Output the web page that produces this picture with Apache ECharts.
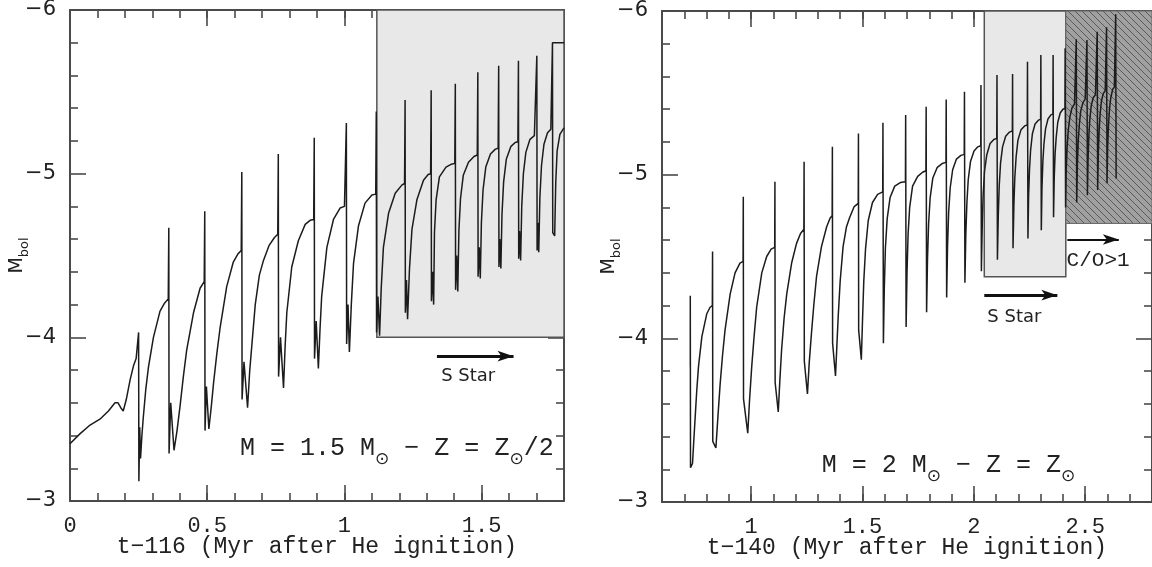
<!DOCTYPE html>
<html><head><meta charset="utf-8">
<script src="https://cdn.jsdelivr.net/npm/echarts@6/dist/echarts.min.js"></script>
<style>html,body{margin:0;padding:0;background:#fff}#c{width:1152px;height:567px}</style>
</head><body><div id="c"></div>
<script>
// ---------- data ----------
const leftTrack = [
[0,-3.35],[0.036,-3.41],[0.07,-3.46],[0.109,-3.50],[0.14,-3.55],[0.164,-3.60],[0.175,-3.60],[0.185,-3.57],[0.194,-3.55],[0.205,-3.62],[0.219,-3.74],[0.232,-3.83],[0.241,-3.87],[0.248,-3.88],
[0.25,-4.03],[0.251,-3.12],[0.254,-3.45],[0.257,-3.26],[0.262,-3.40],[0.267,-3.51],[0.276,-3.68],[0.286,-3.82],[0.304,-4.00],[0.328,-4.16],[0.345,-4.21],[0.358,-4.235],
[0.36,-4.67],[0.361,-3.29],[0.367,-3.60],[0.379,-3.31],[0.39,-3.43],[0.401,-3.58],[0.413,-3.76],[0.425,-3.92],[0.45,-4.15],[0.474,-4.30],[0.489,-4.34],
[0.491,-4.77],[0.492,-3.43],[0.497,-3.70],[0.506,-3.44],[0.515,-3.58],[0.523,-3.72],[0.535,-3.90],[0.547,-4.06],[0.571,-4.31],[0.595,-4.46],[0.612,-4.51],[0.624,-4.53],
[0.626,-5.01],[0.627,-3.62],[0.634,-3.85],[0.647,-3.57],[0.655,-3.80],[0.665,-4.00],[0.675,-4.20],[0.69,-4.38],[0.705,-4.47],[0.725,-4.56],[0.745,-4.61],[0.757,-4.63],
[0.759,-5.12],[0.760,-3.76],[0.767,-4.00],[0.778,-3.69],[0.784,-3.95],[0.790,-4.15],[0.808,-4.43],[0.832,-4.59],[0.857,-4.69],[0.875,-4.715],[0.888,-4.72],
[0.890,-5.22],[0.891,-3.87],[0.897,-4.10],[0.905,-3.81],[0.911,-4.05],[0.917,-4.25],[0.936,-4.55],[0.960,-4.72],[0.984,-4.79],[1.000,-4.80],[1.005,-4.805],
[1.007,-5.31],[1.008,-3.96],[1.013,-4.20],[1.018,-3.91],[1.025,-4.20],[1.033,-4.45],[1.051,-4.68],[1.075,-4.82],[1.100,-4.87],[1.114,-4.875],
[1.116,-5.38],[1.117,-4.03],[1.122,-4.25],[1.128,-4.01],[1.134,-4.30],[1.142,-4.55],[1.161,-4.76],[1.185,-4.88],[1.209,-4.93],[1.219,-4.94],
[1.221,-5.45],[1.222,-4.15],[1.226,-4.35],[1.230,-4.11],[1.237,-4.42],[1.246,-4.66],[1.264,-4.84],[1.288,-4.96],[1.305,-4.995],[1.314,-5.00],
[1.316,-5.51],[1.317,-4.22],[1.321,-4.40],[1.325,-4.20],[1.328,-4.64],[1.334,-4.84],[1.346,-4.98],[1.370,-5.04],[1.390,-5.058],[1.402,-5.063],
[1.404,-5.55],[1.405,-4.29],[1.409,-4.50],[1.413,-4.28],[1.417,-4.65],[1.423,-4.85],[1.433,-4.99],[1.452,-5.07],[1.472,-5.105],[1.484,-5.114],
[1.486,-5.62],[1.487,-4.37],[1.491,-4.55],[1.495,-4.36],[1.499,-4.70],[1.505,-4.90],[1.515,-5.04],[1.532,-5.12],[1.550,-5.15],[1.560,-5.155],
[1.562,-5.66],[1.563,-4.43],[1.566,-4.60],[1.570,-4.42],[1.574,-4.75],[1.580,-4.95],[1.590,-5.09],[1.606,-5.165],[1.622,-5.19],[1.632,-5.195],
[1.634,-5.69],[1.635,-4.48],[1.638,-4.65],[1.642,-4.47],[1.646,-4.80],[1.652,-5.00],[1.661,-5.13],[1.676,-5.21],[1.692,-5.232],[1.699,-5.236],
[1.701,-5.72],[1.702,-4.53],[1.705,-4.70],[1.708,-4.52],[1.712,-4.85],[1.718,-5.05],[1.727,-5.18],[1.740,-5.25],[1.752,-5.272],[1.757,-5.277],
[1.758,-5.80],[1.80,-5.80],[1.758,-5.80],[1.759,-4.64],[1.766,-4.62],[1.770,-4.95],[1.775,-5.14],[1.785,-5.24],[1.80,-5.28]
];

const rightTrack = [
[0.727,-3.83],[0.727,-4.26],[0.728,-3.21],[0.737,-3.235],[0.743,-3.38],[0.749,-3.52],[0.756,-3.68],[0.764,-3.83],[0.779,-4.01],[0.801,-4.15],[0.816,-4.19],[0.826,-4.20],
[0.827,-4.53],[0.828,-3.37],[0.842,-3.33],[0.851,-3.52],[0.861,-3.72],[0.872,-3.90],[0.883,-4.05],[0.906,-4.27],[0.928,-4.40],[0.950,-4.46],[0.964,-4.47],
[0.965,-4.865],[0.966,-3.63],[0.985,-3.42],[0.993,-3.62],[1.003,-3.83],[1.014,-4.02],[1.025,-4.19],[1.048,-4.40],[1.070,-4.50],[1.090,-4.545],[1.106,-4.556],
[1.107,-4.957],[1.108,-3.73],[1.122,-3.55],[1.129,-3.74],[1.137,-3.93],[1.148,-4.12],[1.160,-4.27],[1.182,-4.46],[1.204,-4.58],[1.222,-4.64],[1.237,-4.666],
[1.238,-5.079],[1.239,-3.86],[1.253,-3.66],[1.261,-3.85],[1.271,-4.03],[1.282,-4.21],[1.294,-4.38],[1.316,-4.56],[1.339,-4.68],[1.355,-4.735],[1.364,-4.749],
[1.365,-5.171],[1.366,-3.97],[1.379,-3.77],[1.385,-3.95],[1.391,-4.13],[1.400,-4.35],[1.413,-4.56],[1.428,-4.68],[1.443,-4.74],[1.463,-4.805],[1.481,-4.825],
[1.482,-5.252],[1.483,-4.05],[1.495,-3.87],[1.500,-4.10],[1.506,-4.35],[1.514,-4.55],[1.526,-4.72],[1.545,-4.83],[1.568,-4.88],[1.591,-4.895],
[1.592,-5.317],[1.594,-3.97],[1.598,-4.30],[1.603,-4.55],[1.611,-4.73],[1.624,-4.86],[1.645,-4.93],[1.670,-4.952],[1.693,-4.957],
[1.694,-5.364],[1.696,-4.07],[1.700,-4.40],[1.705,-4.64],[1.712,-4.80],[1.725,-4.93],[1.748,-4.99],[1.770,-5.015],[1.785,-5.024],
[1.786,-5.415],[1.788,-4.16],[1.792,-4.48],[1.797,-4.70],[1.804,-4.86],[1.816,-4.98],[1.836,-5.045],[1.858,-5.068],[1.875,-5.075],
[1.876,-5.46],[1.878,-4.25],[1.882,-4.56],[1.887,-4.77],[1.894,-4.92],[1.905,-5.03],[1.922,-5.095],[1.942,-5.118],[1.957,-5.124],
[1.958,-5.507],[1.960,-4.34],[1.964,-4.63],[1.969,-4.83],[1.975,-4.97],[1.985,-5.08],[2.001,-5.145],[2.018,-5.17],[2.031,-5.177],
[2.032,-5.548],[2.034,-4.41],[2.038,-4.70],[2.042,-4.88],[2.048,-5.02],[2.058,-5.12],[2.073,-5.19],[2.090,-5.215],[2.103,-5.222],
[2.104,-5.609],[2.106,-4.48],[2.110,-4.76],[2.114,-4.93],[2.120,-5.07],[2.129,-5.17],[2.143,-5.235],[2.160,-5.26],[2.173,-5.267],
[2.174,-5.615],[2.176,-4.55],[2.180,-4.82],[2.184,-4.98],[2.190,-5.11],[2.198,-5.21],[2.212,-5.275],[2.228,-5.298],[2.240,-5.303],
[2.241,-5.69],[2.243,-4.61],[2.246,-4.87],[2.250,-5.03],[2.255,-5.15],[2.263,-5.25],[2.275,-5.31],[2.290,-5.333],[2.300,-5.338],
[2.301,-5.731],[2.303,-4.66],[2.306,-4.92],[2.310,-5.08],[2.315,-5.19],[2.322,-5.28],[2.333,-5.34],[2.346,-5.365],[2.355,-5.37],
[2.356,-5.731],[2.358,-4.74],[2.361,-4.98],[2.365,-5.13],[2.370,-5.23],[2.377,-5.32],[2.388,-5.377],[2.400,-5.40],[2.409,-5.405],
[2.410,-5.772],[2.412,-4.80],[2.415,-5.03],[2.419,-5.17],[2.424,-5.27],[2.431,-5.35],[2.441,-5.41],[2.452,-5.432],[2.459,-5.436],
[2.460,-5.827],[2.462,-4.83],[2.465,-5.06],[2.469,-5.21],[2.474,-5.31],[2.480,-5.39],[2.490,-5.44],[2.500,-5.462],[2.507,-5.466],
[2.508,-5.823],[2.510,-4.875],[2.513,-5.10],[2.517,-5.25],[2.521,-5.34],[2.527,-5.42],[2.536,-5.47],[2.546,-5.488],[2.553,-5.491],
[2.554,-5.873],[2.556,-4.906],[2.559,-5.13],[2.563,-5.28],[2.567,-5.37],[2.573,-5.45],[2.581,-5.495],[2.590,-5.513],[2.595,-5.517],
[2.596,-5.90],[2.598,-4.947],[2.601,-5.17],[2.605,-5.31],[2.609,-5.40],[2.615,-5.47],[2.623,-5.52],[2.631,-5.535],[2.636,-5.537],
[2.637,-5.98],[2.639,-4.977]
];

const leftXRange = [0, 1.8];
const rightXRange = [0.6, 2.8];
const yRange = [-6, -3];
const leftXMajor = [0, 0.5, 1, 1.5];
const rightXMajor = [1, 1.5, 2, 2.5];
const leftXTitle = 't\u2212116 (Myr after He ignition)';
const rightXTitle = 't\u2212140 (Myr after He ignition)';

// shaded regions [x1, y1, x2, y2]
const leftSStarBox = [1.118, -6, 1.8, -4.0];
const rightSStarBox = [2.047, -6, 2.413, -4.376];
const rightCOBox = [2.413, -6, 2.8, -4.702];

// arrows [x1, x2, y]
const leftSArrow = [1.337, 1.616, -3.885];
const rightSArrow = [2.047, 2.375, -4.264];
const rightCOArrow = [2.420, 2.651, -4.604];

// ---------- styles ----------
const AX = '#4a4a4a';
const TXT = '#222';
const MONO = 'Liberation Mono';
const SANS = 'DejaVu Sans';

function hatchCanvas() {
  const c = document.createElement('canvas');
  c.width = 7; c.height = 7;
  const g = c.getContext('2d');
  g.fillStyle = '#a0a0a0'; g.fillRect(0, 0, 7, 7);
  g.strokeStyle = '#5a5a5a'; g.lineWidth = 1;
  g.beginPath(); g.moveTo(-1, -1); g.lineTo(8, 8); g.stroke();
  return c;
}

function xAxes(gi, range, majors, title) {
  const base = {type: 'value', gridIndex: gi, min: range[0], max: range[1], splitLine: {show: false}, axisPointer: {show: false}};
  const tickStyle = {color: AX, width: 1.6};
  return [
    Object.assign({}, base, {
      position: 'bottom',
      axisLine: {show: true, onZero: false, lineStyle: {color: AX, width: 2}},
      axisTick: {show: true, inside: true, length: 16, customValues: majors, lineStyle: tickStyle},
      axisLabel: {show: true, customValues: majors, margin: 14, fontFamily: MONO, fontSize: 22, color: TXT},
      name: title, nameLocation: 'middle', nameGap: 34, nameMoveOverlap: false,
      nameTextStyle: {fontFamily: MONO, fontSize: 23, color: TXT}
    }),
    Object.assign({}, base, {
      position: 'bottom', interval: 0.1,
      axisLine: {show: false, onZero: false},
      axisTick: {show: true, inside: true, length: 8, lineStyle: tickStyle},
      axisLabel: {show: false}
    }),
    Object.assign({}, base, {
      position: 'top',
      axisLine: {show: true, onZero: false, lineStyle: {color: AX, width: 2}},
      axisTick: {show: true, inside: true, length: 16, customValues: majors, lineStyle: tickStyle},
      axisLabel: {show: false}
    }),
    Object.assign({}, base, {
      position: 'top', interval: 0.1,
      axisLine: {show: false, onZero: false},
      axisTick: {show: true, inside: true, length: 8, lineStyle: tickStyle},
      axisLabel: {show: false}
    })
  ];
}

function yAxes(gi) {
  const base = {type: 'value', gridIndex: gi, min: yRange[0], max: yRange[1], interval: 1, inverse: true,
    splitLine: {show: false}, minorSplitLine: {show: false}, axisPointer: {show: false},
    axisLine: {show: true, onZero: false, lineStyle: {color: AX, width: 2}},
    axisTick: {show: true, inside: true, length: 16, lineStyle: {color: AX, width: 1.6}},
    minorTick: {show: true, splitNumber: 5, length: 8, lineStyle: {color: AX, width: 1.6}}};
  return [
    Object.assign({}, base, {
      position: 'left',
      axisLabel: {show: true, margin: 14, fontFamily: SANS, fontSize: 21, color: TXT,
        formatter: v => String(v).replace('-', '\u2212')},
      name: '{m|M}{b|bol}', nameLocation: 'middle', nameGap: 40, nameRotate: 90, nameMoveOverlap: false,
      nameTextStyle: {rich: {
        m: {fontFamily: SANS, fontSize: 19, color: TXT, lineHeight: 22, verticalAlign: 'top'},
        b: {fontFamily: SANS, fontSize: 13, color: TXT, lineHeight: 13, padding: [10, 0, 0, 0], verticalAlign: 'top'}
      }}
    }),
    Object.assign({}, base, {position: 'right', axisLabel: {show: false}})
  ];
}

const annRich = {
  m: {fontFamily: MONO, fontSize: 25, color: TXT, lineHeight: 28, verticalAlign: 'top'},
  s: {fontFamily: SANS, fontSize: 17, color: TXT, lineHeight: 17, padding: [15, 0, 0, 0], verticalAlign: 'top'}
};

function areaItem(b, style) {
  return [{coord: [b[0], b[1]], itemStyle: style}, {coord: [b[2], b[3]]}];
}
function arrowItem(a, w, size) {
  return [{coord: [a[0], a[2]], lineStyle: {width: w, color: '#111', type: 'solid'}, symbolSize: size}, {coord: [a[1], a[2]]}];
}

const chart = echarts.init(document.getElementById('c'), null, {renderer: 'canvas'});
const hatch = {image: hatchCanvas(), repeat: 'repeat'};

chart.setOption({
  animation: false,
  backgroundColor: '#fff',
  grid: [
    {left: 70, top: 10, width: 494, height: 491, outerBoundsMode: 'none'},
    {left: 662, top: 11, width: 490, height: 491, outerBoundsMode: 'none'}
  ],
  xAxis: [].concat(xAxes(0, leftXRange, leftXMajor, leftXTitle), xAxes(1, rightXRange, rightXMajor, rightXTitle)),
  yAxis: [].concat(yAxes(0), yAxes(1)),
  series: [
    {type: 'line', xAxisIndex: 0, yAxisIndex: 0, data: [], z: 1, silent: true,
      markArea: {silent: true, data: [areaItem(leftSStarBox, {color: '#e8e8e8', borderColor: '#555', borderWidth: 1.5})]}},
    {type: 'line', xAxisIndex: 4, yAxisIndex: 2, data: [], z: 1, silent: true,
      markArea: {silent: true, data: [
        areaItem(rightSStarBox, {color: '#e8e8e8', borderColor: '#555', borderWidth: 1.5}),
        areaItem(rightCOBox, {color: hatch, borderColor: '#666', borderWidth: 1})
      ]}},
    {type: 'line', name: 'left', xAxisIndex: 0, yAxisIndex: 0, data: leftTrack, showSymbol: false, symbol: 'none',
      lineStyle: {color: '#1c1c1c', width: 1.5}, z: 5, silent: true, clip: true},
    {type: 'line', name: 'right', xAxisIndex: 4, yAxisIndex: 2, data: rightTrack, showSymbol: false, symbol: 'none',
      lineStyle: {color: '#1c1c1c', width: 1.5}, z: 5, silent: true, clip: true},
    {type: 'line', xAxisIndex: 0, yAxisIndex: 0, data: [], z: 6, silent: true,
      markLine: {silent: true, symbol: ['none', 'arrow'], label: {show: false}, data: [arrowItem(leftSArrow, 3, 14)]},
      markPoint: {silent: true, symbol: 'circle', symbolSize: 0, itemStyle: {color: 'rgba(0,0,0,0)'}, data: [
        {coord: [1.451, -3.759], label: {show: true, position: 'inside', formatter: 'S Star', fontFamily: SANS, fontSize: 18, color: TXT}},
        {coord: [1.191, -3.31], label: {show: true, position: 'inside',
          formatter: '{m|M = 1.5 M}{s|\u2299}{m| \u2212 Z = Z}{s|\u2299}{m|/2}', rich: annRich}}
      ]}},
    {type: 'line', xAxisIndex: 4, yAxisIndex: 2, data: [], z: 6, silent: true,
      markLine: {silent: true, symbol: ['none', 'arrow'], label: {show: false}, data: [arrowItem(rightSArrow, 3, 14), arrowItem(rightCOArrow, 2, 11)]},
      markPoint: {silent: true, symbol: 'circle', symbolSize: 0, itemStyle: {color: 'rgba(0,0,0,0)'}, data: [
        {coord: [2.182, -4.131], label: {show: true, position: 'inside', formatter: 'S Star', fontFamily: SANS, fontSize: 18, color: TXT}},
        {coord: [2.558, -4.478], label: {show: true, position: 'inside', formatter: 'C/O>1', fontFamily: MONO, fontSize: 21, color: TXT}},
        {coord: [1.886, -3.215], label: {show: true, position: 'inside',
          formatter: '{m|M = 2 M}{s|\u2299}{m| \u2212 Z = Z}{s|\u2299}', rich: annRich}}
      ]}}
  ]
});
</script>
</body></html>
